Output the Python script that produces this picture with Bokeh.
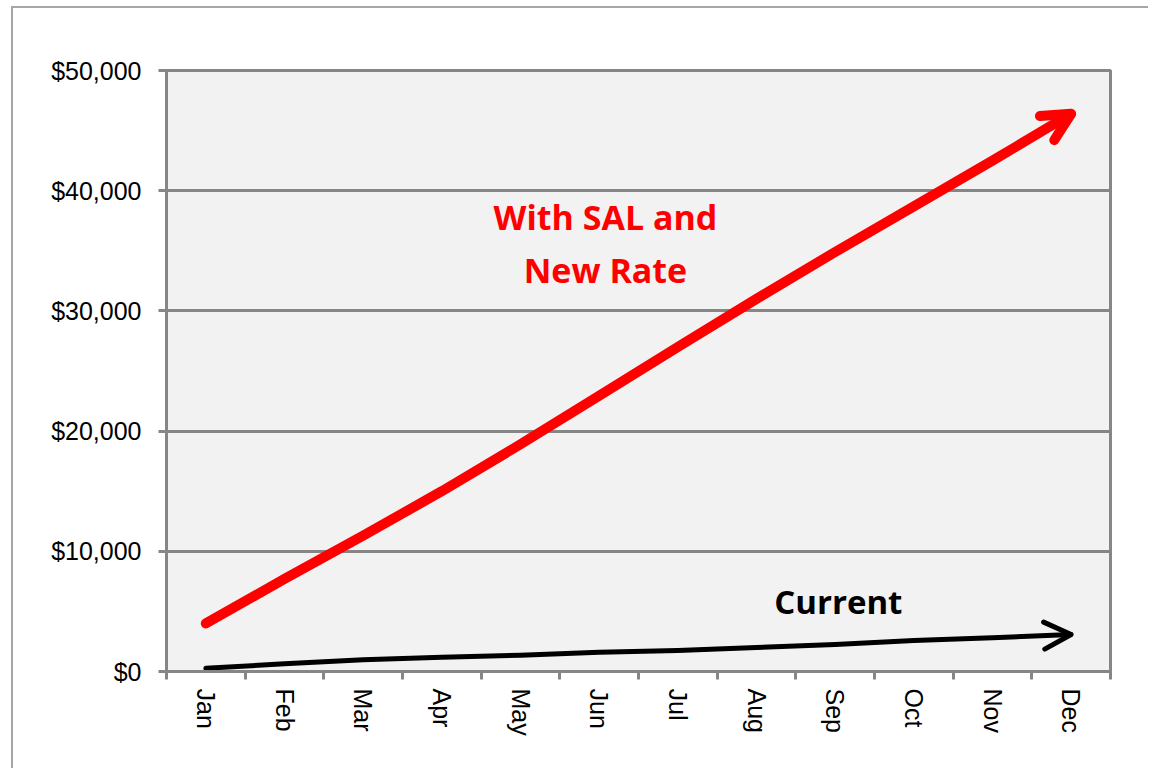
import math
from bokeh.plotting import figure
from bokeh.models import (Range1d, FixedTicker, NumeralTickFormatter, Arrow, OpenHead, Label)
from bokeh.embed import file_html
from bokeh.resources import INLINE

months = ["Jan", "Feb", "Mar", "Apr", "May", "Jun", "Jul", "Aug", "Sep", "Oct", "Nov", "Dec"]
with_sal = [4000, 7700, 11300, 15000, 18900, 22950, 27000, 31000, 34900, 38700, 42500, 46400]
current = [270, 640, 970, 1190, 1360, 1600, 1750, 2000, 2250, 2580, 2800, 3080]
y_ticks = [0, 10000, 20000, 30000, 40000, 50000]

GRAY = "#868686"
x = [i + 0.5 for i in range(len(months))]

p = figure(width=1137, height=762, output_backend="svg", toolbar_location=None,
           x_range=Range1d(0, len(months)), y_range=Range1d(0, 50000),
           min_border_left=153, min_border_right=40, min_border_top=62, min_border_bottom=99)
p.styles = {"border-left": "2px solid #a6a6a6", "border-top": "2px solid #a6a6a6",
            "margin-left": "11px", "margin-top": "6px"}

p.background_fill_color = "#f2f2f2"
p.border_fill_color = "white"
p.outline_line_color = GRAY
p.outline_line_width = 3

# y axis
p.yaxis.ticker = FixedTicker(ticks=y_ticks)
p.yaxis.formatter = NumeralTickFormatter(format="$0,0")
p.yaxis.axis_line_color = GRAY
p.yaxis.axis_line_width = 3
p.yaxis.major_tick_line_color = GRAY
p.yaxis.major_tick_line_width = 3
p.yaxis.major_tick_out = 8
p.yaxis.major_tick_in = 0
p.yaxis.minor_tick_line_color = None
p.yaxis.major_label_standoff = 17
p.yaxis.major_label_text_font = "Liberation Sans"
p.yaxis.major_label_text_font_size = "25px"
p.yaxis.major_label_text_color = "black"

# x axis
p.xaxis.ticker = FixedTicker(ticks=x, minor_ticks=list(range(len(months) + 1)))
p.xaxis.major_label_overrides = {xi: m for xi, m in zip(x, months)}
p.xaxis.axis_line_color = GRAY
p.xaxis.axis_line_width = 3
p.xaxis.major_tick_line_color = None
p.xaxis.major_tick_out = 0
p.xaxis.major_tick_in = 0
p.xaxis.minor_tick_line_color = GRAY
p.xaxis.minor_tick_line_width = 3
p.xaxis.minor_tick_out = 8
p.xaxis.minor_tick_in = 0
p.xaxis.major_label_orientation = -math.pi / 2
p.xaxis.major_label_standoff = 9
p.xaxis.major_label_text_font = "Liberation Sans"
p.xaxis.major_label_text_font_size = "25px"
p.xaxis.major_label_text_color = "black"

p.xgrid.grid_line_color = None
p.ygrid.ticker = FixedTicker(ticks=y_ticks)
p.ygrid.grid_line_color = GRAY
p.ygrid.grid_line_width = 3

# series
p.line(x, with_sal, line_color="red", line_width=10, line_cap="round", line_join="round")
p.line(x, current, line_color="black", line_width=5, line_cap="round", line_join="round")

p.add_layout(Arrow(x_start=x[-2], y_start=with_sal[-2], x_end=x[-1], y_end=with_sal[-1],
                   line_alpha=0,
                   end=OpenHead(size=28, line_color="red", line_width=10, line_cap="round")))
p.add_layout(Arrow(x_start=x[-2], y_start=current[-2], x_end=x[-1], y_end=current[-1],
                   line_alpha=0,
                   end=OpenHead(size=27, line_color="black", line_width=5, line_cap="round")))

font = "Open Sans"
p.add_layout(Label(x=5.58, y=37800, text="With SAL and", text_align="center", text_baseline="middle",
                   text_font=font, text_font_style="bold", text_font_size="34px", text_color="red"))
p.add_layout(Label(x=5.58, y=33400, text="New Rate", text_align="center", text_baseline="middle",
                   text_font=font, text_font_style="bold", text_font_size="34px", text_color="red"))
p.add_layout(Label(x=8.54, y=5820, text="Current", text_align="center", text_baseline="middle",
                   text_font=font, text_font_style="bold", text_font_size="33px", text_color="black"))

open("out.html", "w").write(file_html(p, INLINE))
